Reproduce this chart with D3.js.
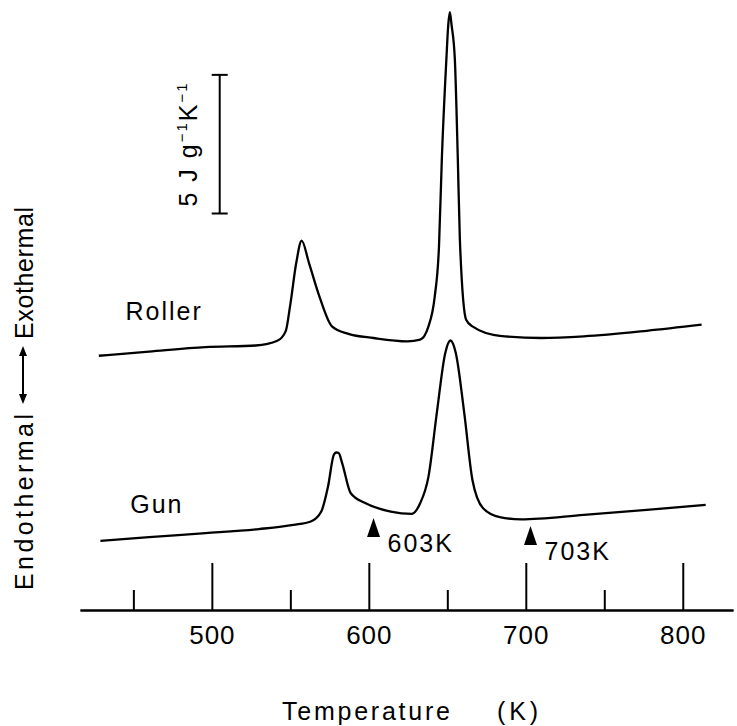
<!DOCTYPE html>
<html>
<head>
<meta charset="utf-8">
<script src="https://cdn.jsdelivr.net/npm/d3@7"></script>
<style>
  body { margin: 0; background: #fff; }
  svg { display: block; font-family: "Liberation Sans", Arial, sans-serif; }
  .curve { fill: none; stroke: #000; stroke-width: 2.3; stroke-linejoin: round; }
  .axis path, .axis line { stroke: #000; stroke-width: 2; }
  .axis text { font-size: 26px; fill: #000; letter-spacing: 1px; font-family: "Liberation Sans", Arial, sans-serif; }
  .label { font-size: 25px; fill: #000; letter-spacing: 2px; }
</style>
</head>
<body>
<svg class="svg-dsc" width="737" height="726"></svg>
<script>
// DSC traces, temperature in K, heat flow in J g^-1 K^-1 (traces offset)
var rollerT = [428, 460, 496, 528, 541.7, 547, 549.8, 553.8, 557.2, 561.8, 568.5, 576.5, 587, 603, 624.6, 632.7,
  638, 642, 644.7, 646.5, 649.4, 650.6, 651.6, 652.7, 654.8, 656.7, 658, 662, 666, 683.4, 710, 737, 777, 812];
var rollerCp = [9.17, 9.32, 9.48, 9.54, 9.71, 10.05, 10.95, 12.53, 13.32, 12.53, 11.31, 10.23, 9.96, 9.81, 9.69, 9.75,
  10.23, 11.31, 13.12, 16.25, 19.86, 21.1, 21.56, 21.1, 19.86, 16.25, 13.36, 10.47, 10.23, 9.89, 9.81, 9.87, 10.07, 10.29];

var gunT = [429, 460, 496, 530, 552, 563, 569.7, 574, 577.7, 579.2, 580.8, 583, 588.5, 598, 614, 627.4, 632.7,
  638, 643.3, 648.7, 652, 655.4, 660.8, 666, 672.8, 683.4, 697, 737, 777, 814.6];
var gunCp = [2.49, 2.63, 2.77, 2.92, 3.07, 3.19, 3.55, 4.45, 5.60, 5.68, 5.66, 5.30, 4.21, 3.85, 3.55, 3.47, 3.85,
  4.81, 7.10, 9.27, 9.72, 9.27, 7.10, 4.69, 3.67, 3.35, 3.27, 3.43, 3.61, 3.79];

var majorTicks = [500, 600, 700, 800];
var minorTicks = [450, 550, 650, 750];

var markerT = [603, 703];
var markerCp = [3.32, 3.03];
var markerLabels = ["603K", "703K"];

var seriesNames = ["Roller", "Gun"];
var seriesLabelT = [445, 448];
var seriesLabelCp = [10.46, 3.5];

var scaleBarT = 505;
var scaleBarCp = [14.3, 19.3]; // 5 J g-1 K-1

var svg = d3.select(".svg-dsc");

var x = d3.scaleLinear().domain([416, 832]).range([80, 733]);
var y = d3.scaleLinear().domain([0, 22]).range([610, 0]);

// axis: ticks point up into the plot
svg.append("g")
  .attr("class", "axis")
  .attr("transform", "translate(0," + y(0) + ")")
  .call(d3.axisBottom(x).tickValues(minorTicks).tickSizeInner(-20).tickSizeOuter(0).tickFormat(""));

var major = svg.append("g")
  .attr("class", "axis")
  .attr("transform", "translate(0," + y(0) + ")")
  .call(d3.axisBottom(x).tickValues(majorTicks).tickSizeInner(-47).tickSizeOuter(0).tickPadding(15));
major.selectAll("text").attr("dy", "0.72em");

var line = d3.line()
  .curve(d3.curveMonotoneX)
  .x(function (d) { return x(d[0]); })
  .y(function (d) { return y(d[1]); });

svg.append("path")
  .attr("class", "curve")
  .datum(d3.zip(rollerT, rollerCp))
  .attr("d", line);

svg.append("path")
  .attr("class", "curve")
  .datum(d3.zip(gunT, gunCp))
  .attr("d", line);

seriesNames.forEach(function (name, i) {
  svg.append("text")
    .attr("class", "label")
    .attr("x", x(seriesLabelT[i]))
    .attr("y", y(seriesLabelCp[i]))
    .text(name);
});

// onset markers
markerT.forEach(function (t, i) {
  var cx = x(t), top = y(markerCp[i]);
  svg.append("path")
    .attr("d", "M" + cx + "," + top + "L" + (cx + 6.5) + "," + (top + 19) + "L" + (cx - 6.5) + "," + (top + 19) + "Z")
    .attr("fill", "#000");
  svg.append("text")
    .attr("class", "label")
    .attr("letter-spacing", "1px")
    .attr("x", cx + 14)
    .attr("y", top + 34)
    .text(markerLabels[i]);
});

// scale bar
var sbx = x(scaleBarT);
svg.append("line")
  .attr("x1", sbx).attr("x2", sbx)
  .attr("y1", y(scaleBarCp[0])).attr("y2", y(scaleBarCp[1]))
  .attr("stroke", "#000").attr("stroke-width", 2);
scaleBarCp.forEach(function (v) {
  svg.append("line")
    .attr("x1", sbx - 8).attr("x2", sbx + 8)
    .attr("y1", y(v)).attr("y2", y(v))
    .attr("stroke", "#000").attr("stroke-width", 2);
});
var sbText = svg.append("text")
  .attr("class", "label")
  .attr("letter-spacing", "1.5px")
  .attr("transform", "translate(197," + (y(scaleBarCp[0]) - 7) + ") rotate(-90)");
sbText.append("tspan").text("5 J g");
sbText.append("tspan").attr("font-size", "15px").attr("dy", "-10").text("\u22121");
sbText.append("tspan").attr("dy", "10").text("K");
sbText.append("tspan").attr("font-size", "15px").attr("dy", "-10").text("\u22121");

// axis titles
svg.append("text")
  .attr("class", "label")
  .attr("textLength", 170)
  .attr("x", 282).attr("y", 720)
  .text("Temperature");
svg.append("text")
  .attr("class", "label")
  .attr("textLength", 43)
  .attr("x", 497).attr("y", 720)
  .text("(K)");

svg.append("text")
  .attr("class", "label")
  .attr("textLength", 178)
  .attr("transform", "translate(33,590) rotate(-90)")
  .text("Endothermal");
svg.append("text")
  .attr("class", "label")
  .attr("textLength", 134)
  .attr("transform", "translate(33,339) rotate(-90)")
  .text("Exothermal");

// double arrow between the two words
var ax = 23, ay0 = 346, ay1 = 404;
svg.append("line")
  .attr("x1", ax).attr("x2", ax).attr("y1", ay0 + 6).attr("y2", ay1 - 6)
  .attr("stroke", "#000").attr("stroke-width", 2);
svg.append("path")
  .attr("d", "M" + ax + "," + ay0 + "L" + (ax + 4) + "," + (ay0 + 10) + "L" + (ax - 4) + "," + (ay0 + 10) + "Z"
    + "M" + ax + "," + ay1 + "L" + (ax + 4) + "," + (ay1 - 10) + "L" + (ax - 4) + "," + (ay1 - 10) + "Z")
  .attr("fill", "#000");
</script>
</body>
</html>
